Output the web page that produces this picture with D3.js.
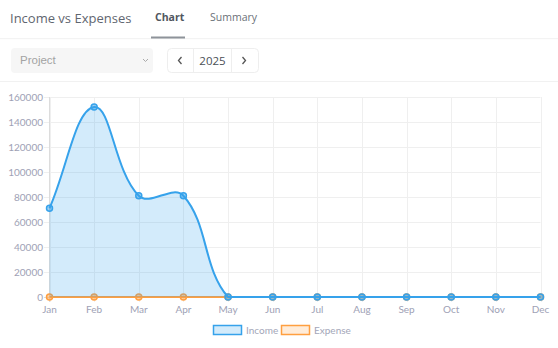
<!DOCTYPE html>
<html><head><meta charset="utf-8">
<script src="https://cdn.jsdelivr.net/npm/d3@7"></script>
<style>
html,body{margin:0;padding:0;background:#fff;}
svg{display:block;}
</style></head>
<body>
<svg id="c" width="558" height="348"></svg>
<script>
const months = ["Jan","Feb","Mar","Apr","May","Jun","Jul","Aug","Sep","Oct","Nov","Dec"];
const income = [71000,152000,81000,81000,0,0,0,0,0,0,0,0];
const expense = [0,0,0,0,0,0,0,0,0,0,0,0];
const yTicks = [0,20000,40000,60000,80000,100000,120000,140000,160000];
const legendItems = ["Income","Expense"];

(function(){
const svg = d3.select("#c");
const W = 558, H = 348;

// ---- header ----
svg.append("text").attr("x",10).attr("y",23).attr("font-family","Open Sans").attr("font-size",13)
  .attr("fill","#5f6670").text("Income vs Expenses");
svg.append("text").attr("x",155).attr("y",21).attr("font-family","Open Sans").attr("font-size",10.5)
  .attr("font-weight",700).attr("fill","#50565e").text("Chart");
svg.append("text").attr("x",210).attr("y",21).attr("font-family","Open Sans").attr("font-size",10.5)
  .attr("fill","#6b7178").text("Summary");
svg.append("rect").attr("x",0).attr("y",38).attr("width",W).attr("height",1.2).attr("fill","#f3f3f3");
svg.append("rect").attr("x",151).attr("y",36.5).attr("width",34).attr("height",2).attr("fill","#8e939a");

// select
svg.append("rect").attr("x",11).attr("y",48).attr("width",142).attr("height",25).attr("rx",4).attr("fill","#f6f6f6");
svg.append("text").attr("x",20).attr("y",63.5).attr("font-family","Liberation Sans").attr("font-size",11.5)
  .attr("fill","#a3a3a3").text("Project");
svg.append("path").attr("d","M143,59 l2.5,2.5 l2.5,-2.5").attr("fill","none").attr("stroke","#aaa").attr("stroke-width",1);

// pager
svg.append("rect").attr("x",167.5).attr("y",48.5).attr("width",91).attr("height",24).attr("rx",4)
  .attr("fill","#fff").attr("stroke","#eeeeee");
svg.append("line").attr("x1",193.5).attr("x2",193.5).attr("y1",49).attr("y2",72).attr("stroke","#eeeeee");
svg.append("line").attr("x1",231.5).attr("x2",231.5).attr("y1",49).attr("y2",72).attr("stroke","#eeeeee");
svg.append("path").attr("d","M181.5,57 l-3,3.5 l3,3.5").attr("fill","none").attr("stroke","#555").attr("stroke-width",1.3);
svg.append("path").attr("d","M242.5,57 l3,3.5 l-3,3.5").attr("fill","none").attr("stroke","#555").attr("stroke-width",1.3);
svg.append("text").attr("x",212.5).attr("y",64.5).attr("text-anchor","middle").attr("font-family","Open Sans")
  .attr("font-size",11.5).attr("fill","#4a4f55").text("2025");
svg.append("rect").attr("x",0).attr("y",81).attr("width",W).attr("height",1).attr("fill","#f1f1f1");

// ---- chart ----
const x = d3.scalePoint().domain(months).range([49.5,540.5]);
const y = d3.scaleLinear().domain([0,160000]).range([297,97]);
const areaTop = 97, areaBottom = 297, areaLeft = 49.5, areaRight = 540.5;
const tickFont = "Lato";
const tickColor = "#9ea1b5";

const g = svg.append("g");
g.selectAll(".hg").data(yTicks).join("line")
  .attr("x1",44).attr("x2",areaRight).attr("y1",d=>Math.round(y(d))+0.5).attr("y2",d=>Math.round(y(d))+0.5)
  .attr("stroke","#efefef");
g.selectAll(".vg").data(months).join("line")
  .attr("x1",d=>Math.round(x(d))+0.5).attr("x2",d=>Math.round(x(d))+0.5).attr("y1",areaTop).attr("y2",areaBottom+5)
  .attr("stroke","#efefef");
g.append("line").attr("x1",49.5).attr("x2",49.5).attr("y1",areaTop).attr("y2",areaBottom+5).attr("stroke","#dcdcdc");
g.append("line").attr("x1",44).attr("x2",49.5).attr("y1",297.5).attr("y2",297.5).attr("stroke","#dcdcdc");

g.selectAll(".yl").data(yTicks).join("text")
  .attr("x",43).attr("y",d=>y(d)+3.5).attr("text-anchor","end")
  .attr("font-family",tickFont).attr("font-size",10).attr("fill",tickColor).text(d=>d);
g.selectAll(".xl").data(months).join("text")
  .attr("x",d=>x(d)).attr("y",313).attr("text-anchor","middle")
  .attr("font-family",tickFont).attr("font-size",10).attr("fill",tickColor).text(d=>d);

function splinePath(vals, closeArea){
  const pts = vals.map((v,i)=>({x:x(months[i]), y:y(v)}));
  const t = 0.4;
  const cap = (v,lo,hi)=>Math.max(lo,Math.min(hi,v));
  const cps = pts.map((p,i)=>{
    const prev = pts[i-1]||p, next = pts[i+1]||p;
    const d01 = Math.hypot(p.x-prev.x,p.y-prev.y);
    const d12 = Math.hypot(next.x-p.x,next.y-p.y);
    let s01 = d01/(d01+d12), s12 = d12/(d01+d12);
    if(isNaN(s01)) s01=0; if(isNaN(s12)) s12=0;
    const fa = t*s01, fb = t*s12;
    return {
      px: cap(p.x - fa*(next.x-prev.x),areaLeft,areaRight), py: cap(p.y - fa*(next.y-prev.y),areaTop,areaBottom),
      nx: cap(p.x + fb*(next.x-prev.x),areaLeft,areaRight), ny: cap(p.y + fb*(next.y-prev.y),areaTop,areaBottom)
    };
  });
  const path = d3.path();
  path.moveTo(pts[0].x,pts[0].y);
  for(let i=1;i<pts.length;i++){
    path.bezierCurveTo(cps[i-1].nx,cps[i-1].ny,cps[i].px,cps[i].py,pts[i].x,pts[i].y);
  }
  if(closeArea){
    path.lineTo(pts[pts.length-1].x,y(0));
    path.lineTo(pts[0].x,y(0));
    path.closePath();
  }
  return {d:path.toString(), pts};
}

const blue = "#36a2eb", blueFill = "rgba(54,162,235,0.22)", bluePt = "rgba(54,162,235,0.5)";
const orange = "#ff9f40", orangeFill = "rgba(255,159,64,0.2)", orangePt = "rgba(255,159,64,0.5)";

function drawSeries(vals, stroke, fill, ptFill){
  const area = splinePath(vals,true);
  g.append("path").attr("d",area.d).attr("fill",fill).attr("stroke","none");
  const line = splinePath(vals,false);
  g.append("path").attr("d",line.d).attr("fill","none").attr("stroke",stroke).attr("stroke-width",2);
  g.selectAll(null).data(line.pts).join("circle")
    .attr("cx",d=>d.x).attr("cy",d=>d.y).attr("r",3)
    .attr("fill",ptFill).attr("stroke",stroke).attr("stroke-width",1.5);
}
drawSeries(expense, orange, orangeFill, orangePt);
drawSeries(income, blue, blueFill, bluePt);

const leg = [
  {name:legendItems[0], x:213, stroke:blue, fill:blueFill},
  {name:legendItems[1], x:281, stroke:orange, fill:orangeFill}
];
leg.forEach(l=>{
  svg.append("rect").attr("x",l.x+0.5).attr("y",325.5).attr("width",28).attr("height",9)
    .attr("fill",l.fill).attr("stroke",l.stroke).attr("stroke-width",1.5);
  svg.append("text").attr("x",l.x+33).attr("y",333.5).attr("font-family",tickFont).attr("font-size",10)
    .attr("fill","#a3a6b8").text(l.name);
});
})();
</script>
</body></html>
